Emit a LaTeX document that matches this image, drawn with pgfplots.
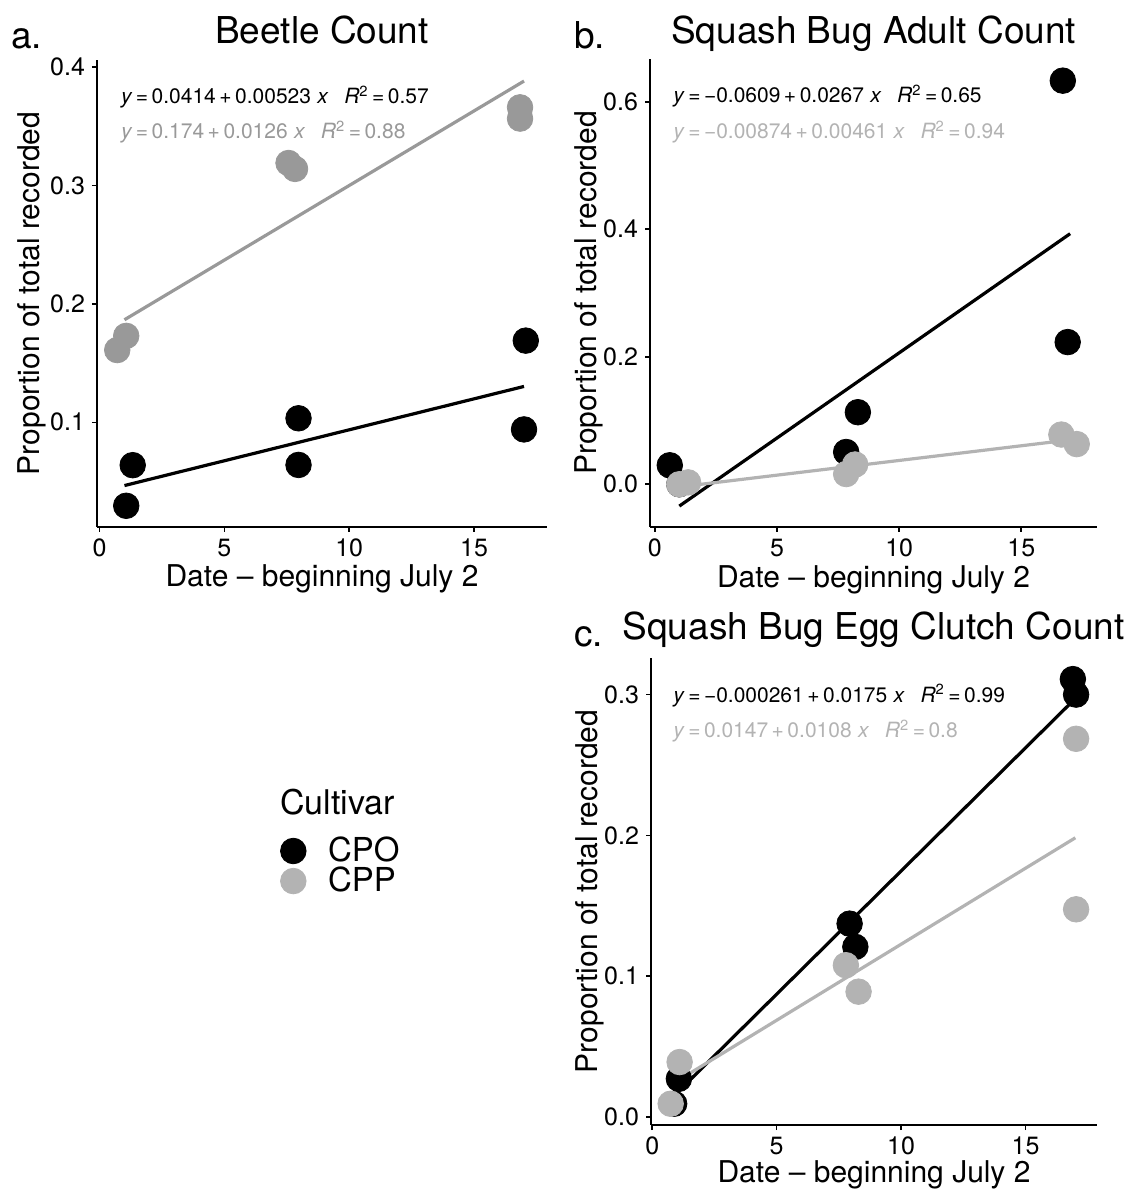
\documentclass[border=0pt]{standalone}
\usepackage{fontspec}
\setmainfont{TeX Gyre Heros}
\usepackage{pgfplots}
\pgfplotsset{compat=1.18}
\definecolor{gA}{HTML}{999999}
\definecolor{gB}{HTML}{B3B3B3}
\newcommand{\eqn}[4]{\textit{y}\,=\,#1\,+\,#2\hspace{0.3em}\textit{x}\hspace{0.75em}\textit{R}\textsuperscript{2}\,=\,#3}
\pgfplotsset{
  panel/.style={
    scale only axis, anchor=south west, clip=false,
    axis lines=left, axis line style={-, line width=0.8pt, black},
    tick align=outside, major tick length=2.5pt,
    tick style={line width=0.8pt, black},
    xtick pos=left, ytick pos=left,
    /pgf/number format/assume math mode=true,
    tick label style={font=\fontsize{12.5}{14}\selectfont},
    label style={font=\fontsize{15}{18}\selectfont},
    xlabel={Date -- beginning July 2},
    ylabel={Proportion of total recorded},
    xtick={0,5,10,15}, xticklabels={0,5,10,15},
    xlabel style={at={(axis description cs:0.5,-0.1285)}, anchor=base},
  },
  pts/.style={only marks, mark=*, mark size=6.4pt, #1, mark options={draw=none, fill=#1}},
  fit/.style={#1, line width=1.6pt},
}
\begin{document}
\begin{tikzpicture}
\path[use as bounding box] (0,0) rectangle (564.5pt,596pt);

% ---------- a. Beetle Count
\begin{axis}[panel, at={(48.5pt,332.5pt)}, width=225pt, height=233.5pt,
  xmin=-0.1, xmax=17.92, ymin=0.0116, ymax=0.406,
  ytick={0.1,0.2,0.3,0.4}, yticklabels={0.1,0.2,0.3,0.4},
  ylabel style={at={(axis description cs:-0.127,0.5)}, anchor=base}]
\addplot[pts=black] table {
x y
1.07 0.0295
1.33 0.0638
7.97 0.1034
7.97 0.0640
17.07 0.1690
17.00 0.0940
};
\addplot[pts=gA] table {
x y
0.71 0.161
1.07 0.173
7.57 0.319
7.83 0.314
16.84 0.366
16.84 0.3565
};
\addplot[fit=black] coordinates {(1,0.0466) (17,0.1303)};
\addplot[fit=gA] coordinates {(1,0.1866) (17,0.3882)};
\end{axis}

% ---------- b. Squash Bug Adult Count
\begin{axis}[panel, at={(325pt,332.5pt)}, width=223.5pt, height=234pt,
  xmin=-0.2, xmax=18.1, ymin=-0.067, ymax=0.667,
  ytick={0,0.2,0.4,0.6}, yticklabels={0.0,0.2,0.4,0.6},
  ylabel style={at={(axis description cs:-0.119,0.5)}, anchor=base}]
\addplot[pts=black] table {
x y
0.61 0.0298
1.00 0.0000
7.83 0.0506
8.31 0.1130
16.70 0.6330
16.90 0.2230
};
\addplot[pts=gB] table {
x y
1.00 0.000
1.36 0.003
7.83 0.016
8.20 0.031
16.64 0.078
17.27 0.063
};
\addplot[fit=black] coordinates {(1,-0.0342) (17,0.3930)};
\addplot[fit=gB] coordinates {(1,-0.00413) (17,0.0696)};
\end{axis}

% ---------- c. Squash Bug Egg Clutch Count
\begin{axis}[panel, at={(325.5pt,33.5pt)}, width=223pt, height=233.5pt,
  xmin=-0.05, xmax=17.87, ymin=-0.0057, ymax=0.326,
  ytick={0,0.1,0.2,0.3}, yticklabels={0.0,0.1,0.2,0.3},
  ylabel style={at={(axis description cs:-0.121,0.5)}, anchor=base},
  xlabel style={at={(axis description cs:0.5,-0.124)}, anchor=base},
  legend image code/.code={\draw[mark repeat=2,mark phase=2,#1] plot coordinates {(0pt,0pt) (6.4pt,0pt) (12.8pt,0pt)};},
  legend style={at={(axis description cs:-0.8307,0.6163)}, anchor=north west,
    draw=none, fill=none, inner sep=0pt, outer sep=0pt,
    row sep=1.2pt, column sep=11pt,
    font=\fontsize{16.5}{18}\selectfont,
    nodes={inner sep=0pt}},
  legend cell align=left]
\addplot[pts=black] table {
x y
16.90 0.3110
17.03 0.3000
7.93 0.1373
8.16 0.1208
1.07 0.0271
0.88 0.0094
};
\addlegendentry{CPO}
\addplot[pts=gB] table {
x y
17.03 0.2686
17.03 0.1475
7.78 0.1078
8.29 0.0890
1.10 0.0390
0.74 0.0094
};
\addlegendentry{CPP}
\addplot[fit=black, forget plot] coordinates {(1,0.01724) (17,0.29724)};
\addplot[fit=gB, forget plot] coordinates {(1,0.0255) (17,0.1983)};
\end{axis}

% ---------- titles, panel letters, equations, legend title
\begin{scope}[every node/.style={inner sep=0pt}]
\node[anchor=base, font=\fontsize{18.5}{20}\selectfont] at (161pt,574pt) {Beetle Count};
\node[anchor=base, font=\fontsize{18.5}{20}\selectfont] at (436.75pt,574pt) {Squash Bug Adult Count};
\node[anchor=base, font=\fontsize{18.5}{20}\selectfont] at (436.75pt,276pt) {Squash Bug Egg Clutch Count};
\node[anchor=base west, font=\fontsize{18.5}{20}\selectfont] at (5.5pt,571.5pt) {a.};
\node[anchor=base west, font=\fontsize{18.5}{20}\selectfont] at (287pt,571.5pt) {b.};
\node[anchor=base west, font=\fontsize{18.5}{20}\selectfont] at (287pt,272.5pt) {c.};
\node[anchor=base west, font=\fontsize{10.5}{12}\selectfont] at (60.35pt,544pt) {\eqn{0.0414}{0.00523}{0.57}{}};
\node[anchor=base west, font=\fontsize{10.5}{12}\selectfont, text=gA] at (60.35pt,526.5pt) {\eqn{0.174}{0.0126}{0.88}{}};
\node[anchor=base west, font=\fontsize{10.5}{12}\selectfont] at (336.5pt,544.5pt) {\eqn{−0.0609}{0.0267}{0.65}{}};
\node[anchor=base west, font=\fontsize{10.5}{12}\selectfont, text=gB] at (336.5pt,526.5pt) {\eqn{−0.00874}{0.00461}{0.94}{}};
\node[anchor=base west, font=\fontsize{10.5}{12}\selectfont] at (336.5pt,244.65pt) {\eqn{−0.000261}{0.0175}{0.99}{}};
\node[anchor=base west, font=\fontsize{10.5}{12}\selectfont, text=gB] at (336.5pt,227pt) {\eqn{0.0147}{0.0108}{0.8}{}};
\node[anchor=base west, font=\fontsize{17}{19}\selectfont] at (140pt,188.5pt) {Cultivar};
\end{scope}
\end{tikzpicture}
\end{document}
